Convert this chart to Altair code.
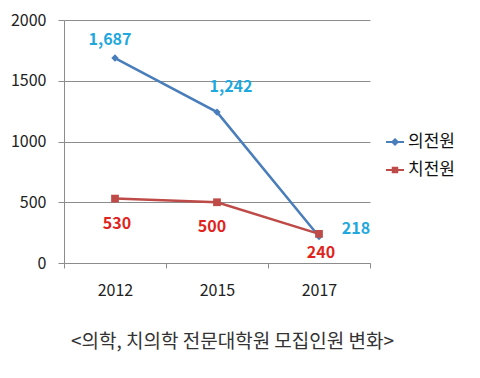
import altair as alt
import pandas as pd

years = ["2012", "2015", "2017"]
series_names = ["의전원", "치전원"]
med_values = [1687, 1242, 218]
dent_values = [530, 500, 240]
y_ticks = [0, 500, 1000, 1500, 2000]
caption = "<의학, 치의학 전문대학원 모집인원 변화>"

line_colors = ["#4A7EBB", "#BE4B48"]
label_colors = {"의전원": "#1FA8DE", "치전원": "#E0231C"}
FONT = "Noto Sans CJK KR"

rows = []
for yr, v in zip(years, med_values):
    rows.append({"year": yr, "series": series_names[0], "value": v})
for yr, v in zip(years, dent_values):
    rows.append({"year": yr, "series": series_names[1], "value": v})
df = pd.DataFrame(rows)

xenc = alt.X(
    "year:N",
    sort=years,
    bandPosition=0.5,
    scale=alt.Scale(type="band", paddingInner=0, paddingOuter=0),
    axis=alt.Axis(
        title=caption,
        titleFont=FONT, titleFontSize=19, titleFontWeight="normal", titleColor="#333333",
        titleX=168, titleY=78, titleAlign="center", titleBaseline="middle",
        labelFont=FONT, labelFontSize=16, labelColor="#222222", labelPadding=14,
        labelAngle=0, tickBand="extent", tickSize=5, tickColor="#8c8c8c",
        domainColor="#8c8c8c", grid=False,
    ),
)
yenc = alt.Y(
    "value:Q",
    scale=alt.Scale(domain=[0, 2000], nice=False),
    axis=alt.Axis(
        title=None, values=y_ticks, format="d",
        labelFont=FONT, labelFontSize=16, labelColor="#222222", labelPadding=12,
        tickSize=6, tickColor="#8c8c8c", domainColor="#8c8c8c",
        grid=True, gridColor="#8c8c8c", gridWidth=1,
    ),
)
color_scale = alt.Scale(domain=series_names, range=line_colors)
shape_scale = alt.Scale(
    domain=series_names,
    range=[
        "M-1,0H1M0,-0.3L0.3,0L0,0.3L-0.3,0Z",
        "M-1,0H1M-0.25,-0.25H0.25V0.25H-0.25Z",
    ],
)
legend = alt.Legend(
    title=None, orient="none", legendX=321, legendY=112, padding=0,
    symbolSize=324, symbolStrokeWidth=2, symbolOpacity=1,
    symbolFillColor="transparent",
    labelFont=FONT, labelFontSize=17, labelColor="#111111",
    labelOffset=3, rowPadding=10,
)
color_enc = alt.Color("series:N", scale=color_scale, legend=legend)
shape_enc = alt.Shape("series:N", scale=shape_scale, legend=legend)

base = alt.Chart(df)

legend_layer = base.mark_point(opacity=0, filled=False, strokeWidth=2).encode(
    x=xenc, y=yenc, color=color_enc, shape=shape_enc
)

lines = base.mark_line(strokeWidth=2.5).encode(x=xenc, y=yenc, color=color_enc)

pts_med = base.transform_filter(alt.datum.series == series_names[0]).mark_point(
    shape="diamond", filled=True, size=55, opacity=1
).encode(x=xenc, y=yenc, color=color_enc)

pts_dent = base.transform_filter(alt.datum.series == series_names[1]).mark_point(
    shape="square", filled=True, size=60, opacity=1
).encode(x=xenc, y=yenc, color=color_enc)


def label(series, year, dx, dy):
    return base.transform_filter(
        (alt.datum.series == series) & (alt.datum.year == year)
    ).mark_text(
        dx=dx, dy=dy, font=FONT, fontSize=16, fontWeight="bold",
        color=label_colors[series], align="center", baseline="middle",
    ).encode(x=xenc, y=yenc, text=alt.Text("value:Q", format=","))


labels = [
    label(series_names[0], "2012", -5, -18),
    label(series_names[0], "2015", 14, -25),
    label(series_names[0], "2017", 37, -8),
    label(series_names[1], "2012", 2, 25),
    label(series_names[1], "2015", -5, 25),
    label(series_names[1], "2017", 2, 19),
]

chart = alt.layer(legend_layer, lines, pts_med, pts_dent, *labels).properties(
    width=306,
    height=243,
    autosize="none",
    padding={"left": 56, "top": 12, "right": 102, "bottom": 107},
    background="white",
).configure_view(stroke=None)

chart.save("out.html", embed_options={"renderer": "svg", "actions": False})
